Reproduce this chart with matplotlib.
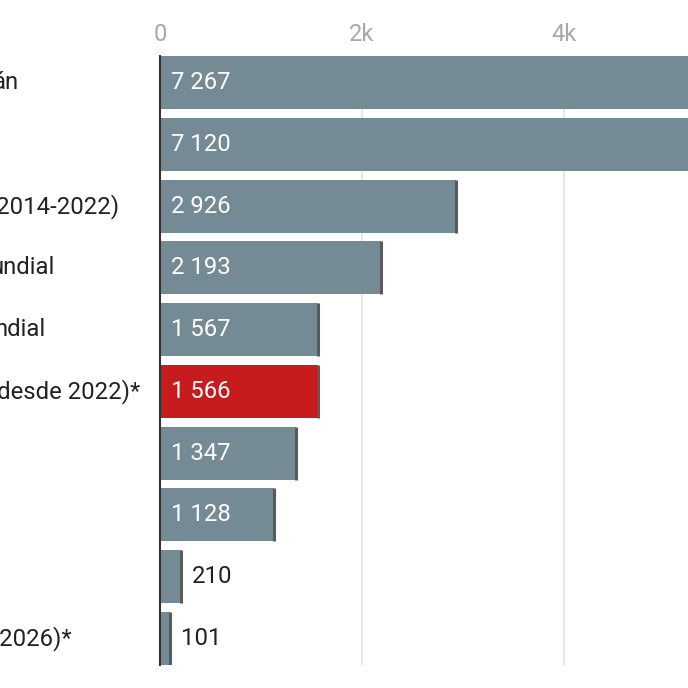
import numpy as np
import matplotlib
matplotlib.use("Agg")
import matplotlib.pyplot as plt
from matplotlib.transforms import blended_transform_factory

plt.rcParams['font.family'] = ['Roboto', 'DejaVu Sans']

# visible label fragments (chart is cropped on the left)
labels = ["án", "", "(2014-2022)", "undial", "ndial", "(desde 2022)*", "", "", "", "(2026)*"]
values = [7267, 7120, 2926, 2193, 1567, 1566, 1347, 1128, 210, 101]
value_text = ["7 267", "7 120", "2 926", "2 193", "1 567", "1 566", "1 347", "1 128", "210", "101"]
highlight = 5
ticks = [0, 2000, 4000, 6000, 8000]
tick_labels = ["0", "2k", "4k", "6k", "8k"]

# right edge of each label fragment, figure pixels
label_right_px = [19, 0, 120, 55, 46, 140, 0, 0, 0, 72]

W = H = 688
fig = plt.figure(figsize=(W / 100, H / 100), dpi=100)
x0, top, bot = 160, 56, 665
px_per_unit = 0.101
xmax = 8000
ax = fig.add_axes([x0 / W, 1 - bot / H, xmax * px_per_unit / W, (bot - top) / H])

grey = "#748b96"
red = "#c81b1d"
bh = 0.86
fs = 17.2
y = np.arange(len(values))
colors = [red if i == highlight else grey for i in range(len(values))]

ax.set_axisbelow(True)
ax.grid(axis="x", color="#e4e4e4", lw=1.2)
ax.barh(y, values, height=bh, color=colors, zorder=2)
ax.vlines(values, y - bh / 2, y + bh / 2, color="#5a5a5a", lw=2.2, zorder=3)

ax.set_xlim(0, xmax)
ax.set_ylim(len(values) - 1 + bh / 2, -bh / 2)

for i, (v, t) in enumerate(zip(values, value_text)):
    if v > 800:
        ax.annotate(t, (0, i), xytext=(11, 0), textcoords="offset pixels",
                    ha="left", va="center", color="white", fontsize=fs, zorder=4)
    else:
        ax.annotate(t, (v, i), xytext=(11, 0), textcoords="offset pixels",
                    ha="left", va="center", color="#222222", fontsize=fs, zorder=4)

trans = blended_transform_factory(fig.transFigure, ax.transData)
for i, (lab, rx) in enumerate(zip(labels, label_right_px)):
    if lab:
        ax.text(rx / W, i, lab, ha="right", va="center", fontsize=fs,
                color="#222222", transform=trans)

ax.xaxis.tick_top()
ax.set_xticks(ticks)
ax.set_xticklabels(tick_labels)
ax.tick_params(axis="x", length=0, pad=7, labelsize=17, labelcolor="#a8a8a8")
ax.set_yticks([])
for s in ["top", "right", "bottom"]:
    ax.spines[s].set_visible(False)
ax.spines["left"].set_color("#333333")
ax.spines["left"].set_linewidth(1.5)
ax.spines["left"].set_zorder(5)

fig.savefig("out.png", dpi=100)
